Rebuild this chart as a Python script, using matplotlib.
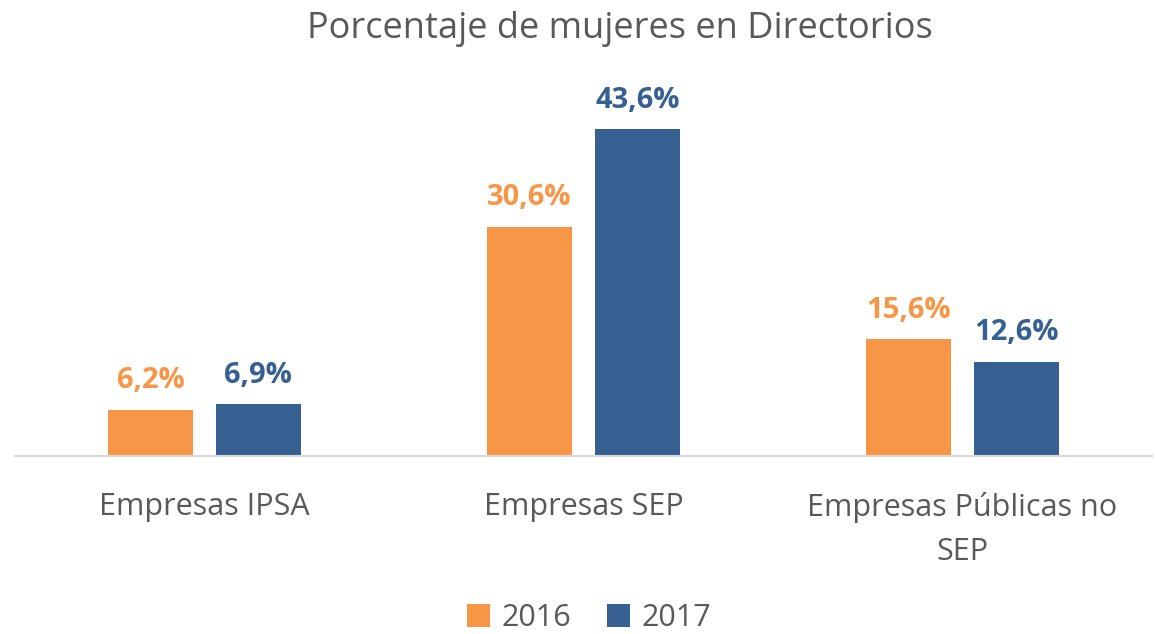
import matplotlib.pyplot as plt
import numpy as np

categories = ["Empresas IPSA", "Empresas SEP", "Empresas Públicas no\nSEP"]
years = ["2016", "2017"]
v2016 = [6.2, 30.6, 15.6]
v2017 = [6.9, 43.6, 12.6]

orange = "#F79646"
blue = "#366092"
gray = "#595959"

plt.rcParams['font.family'] = ['Open Sans', 'DejaVu Sans']

fig = plt.figure(figsize=(11.55, 6.34), dpi=100)
ax = fig.add_axes([15 / 1155, 1 - 456 / 634, 1137 / 1155, 375 / 634])

x = np.arange(len(categories))
w = 0.224
off = 0.142
b1 = ax.bar(x - off, v2016, w, color=orange, label=years[0])
b2 = ax.bar(x + off, v2017, w, color=blue, label=years[1])

for bars, vals, c in [(b1, v2016, orange), (b2, v2017, blue)]:
    for b, v in zip(bars, vals):
        ax.text(b.get_x() + b.get_width() / 2, v + 1.9, f"{v:.1f}%".replace(".", ","),
                ha="center", va="bottom", color=c, fontsize=21, fontweight="bold")

ax.set_xlim(-0.5, 2.5)
ax.set_ylim(0, 50)
ax.set_yticks([])
ax.set_xticks(x)
ax.set_xticklabels(categories, fontsize=22, color=gray, linespacing=1.62)
ax.tick_params(axis="x", length=0, pad=26)
for s in ["top", "right", "left"]:
    ax.spines[s].set_visible(False)
ax.spines["bottom"].set_color("#D9D9D9")
ax.spines["bottom"].set_linewidth(1.5)

fig.suptitle("Porcentaje de mujeres en Directorios", x=0.537, y=0.983,
             fontsize=26, color=gray)

fig.legend(loc="lower center", bbox_to_anchor=(0.51, -0.042), ncol=2, frameon=False,
           fontsize=22, labelcolor=gray, handlelength=0.75, handleheight=0.75,
           handletextpad=0.35, columnspacing=1.2)

fig.savefig("out.png", dpi=100)
